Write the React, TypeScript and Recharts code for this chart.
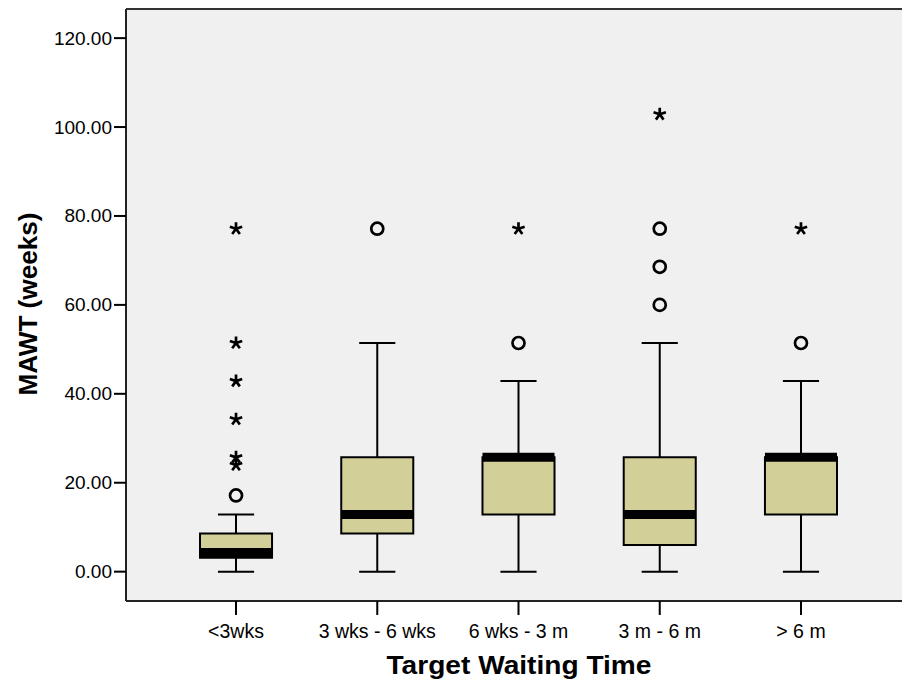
import React from 'react';
import {
  ComposedChart,
  XAxis,
  YAxis,
  CartesianGrid,
  ReferenceArea,
  ReferenceLine,
  Scatter,
} from 'recharts';

const categories = ['<3wks', '3 wks - 6 wks', '6 wks - 3 m', '3 m - 6 m', '> 6 m'];
const whiskerLow = [0, 0, 0, 0, 0];
const q1 = [3.14, 8.57, 12.86, 6.0, 12.86];
const medians = [4.29, 12.86, 25.71, 12.86, 25.71];
const q3 = [8.57, 25.71, 25.71, 25.71, 25.71];
const whiskerHigh = [12.86, 51.43, 42.86, 51.43, 42.86];
const outliers = [[17.14], [77.14], [51.43], [77.14, 68.57, 60.0], [51.43]];
const extremes = [[77.14, 51.43, 42.86, 34.29, 25.71, 24.0], [], [77.14], [102.86], [77.14]];
const yTicks = [0, 20, 40, 60, 80, 100, 120];

const font = '"Liberation Sans", Arial, sans-serif';
const yDomain: [number, number] = [-6.6, 126.55];
const xDomain: [number, number] = [0.221, 5.779];
const boxHalf = 0.255;
const capHalf = 0.128;

const circleData = outliers.flatMap((vals, i) => vals.map((v) => ({ x: i + 1, y: v })));
const starData = extremes.flatMap((vals, i) => vals.map((v) => ({ x: i + 1, y: v })));

const CircleMark = (props: any) => {
  const { cx, cy } = props;
  return <circle cx={cx} cy={cy} r={6} fill="none" stroke="#000" strokeWidth={2.7} />;
};

const StarMark = (props: any) => {
  const { cx, cy } = props;
  const r = 6.5;
  const d = [-90, -18, 54, 126, 198]
    .map((a) => {
      const t = (a * Math.PI) / 180;
      return `M${cx},${cy}L${cx + r * Math.cos(t)},${cy + r * Math.sin(t)}`;
    })
    .join('');
  return <path d={d} stroke="#000" strokeWidth={2.7} fill="none" />;
};

const YTick = (props: any) => {
  const { x, y, payload } = props;
  return (
    <text x={x} y={y} dy={6.5} textAnchor="end" fontSize={19} fontFamily={font} fill="#000">
      {Number(payload.value).toFixed(2)}
    </text>
  );
};

const XTick = (props: any) => {
  const { x, y, payload } = props;
  return (
    <text x={x} y={y + 21} textAnchor="middle" fontSize={19.5} fontFamily={font} fill="#000">
      {categories[payload.value - 1]}
    </text>
  );
};

export default function App() {
  return (
    <div style={{ position: 'absolute', left: 0, top: 0, width: 902, height: 686, overflow: 'hidden', background: '#fff' }}>
      <ComposedChart width={920} height={686} margin={{ top: 9, right: 9, left: 0, bottom: 0 }}>
        <CartesianGrid horizontal={false} vertical={false} fill="#f0f0f0" />
        <XAxis
          type="number"
          dataKey="x"
          domain={xDomain}
          ticks={[1, 2, 3, 4, 5]}
          allowDataOverflow
          height={85}
          tickSize={14}
          tickLine={{ stroke: '#000', strokeWidth: 2 }}
          axisLine={{ stroke: '#222', strokeWidth: 2 }}
          tick={<XTick />}
          label={{
            content: () => (
              <text
                x={519}
                y={674}
                textAnchor="middle"
                fontSize={25}
                fontWeight="bold"
                fontFamily={font}
                fill="#000"
                textLength={265}
                lengthAdjust="spacingAndGlyphs"
              >
                Target Waiting Time
              </text>
            ),
          }}
        />
        <YAxis
          type="number"
          dataKey="y"
          domain={yDomain}
          ticks={yTicks}
          allowDataOverflow
          width={126}
          tickSize={12}
          tickLine={{ stroke: '#000', strokeWidth: 2 }}
          axisLine={{ stroke: '#222', strokeWidth: 2 }}
          tick={<YTick />}
          label={{
            content: () => (
              <text
                x={37}
                y={304}
                transform="rotate(-90 37 304)"
                textAnchor="middle"
                fontSize={25}
                fontWeight="bold"
                fontFamily={font}
                fill="#000"
                textLength={183}
                lengthAdjust="spacingAndGlyphs"
              >
                MAWT (weeks)
              </text>
            ),
          }}
        />
        <ReferenceLine y={yDomain[1]} stroke="#333" strokeWidth={2} />
        {categories.map((c, i) => (
          <ReferenceArea
            key={'box' + c}
            x1={i + 1 - boxHalf}
            x2={i + 1 + boxHalf}
            y1={q1[i]}
            y2={q3[i]}
            fill="#d3cf98"
            fillOpacity={1}
            stroke="#000"
            strokeWidth={2}
          />
        ))}
        {categories.map((c, i) => (
          <ReferenceLine
            key={'wu' + c}
            segment={[{ x: i + 1, y: q3[i] }, { x: i + 1, y: whiskerHigh[i] }]}
            stroke="#000"
            strokeWidth={2}
          />
        ))}
        {categories.map((c, i) => (
          <ReferenceLine
            key={'wl' + c}
            segment={[{ x: i + 1, y: whiskerLow[i] }, { x: i + 1, y: q1[i] }]}
            stroke="#000"
            strokeWidth={2}
          />
        ))}
        {categories.map((c, i) => (
          <ReferenceLine
            key={'cu' + c}
            segment={[{ x: i + 1 - capHalf, y: whiskerHigh[i] }, { x: i + 1 + capHalf, y: whiskerHigh[i] }]}
            stroke="#000"
            strokeWidth={2}
          />
        ))}
        {categories.map((c, i) => (
          <ReferenceLine
            key={'cl' + c}
            segment={[{ x: i + 1 - capHalf, y: whiskerLow[i] }, { x: i + 1 + capHalf, y: whiskerLow[i] }]}
            stroke="#000"
            strokeWidth={2}
          />
        ))}
        {categories.map((c, i) => (
          <ReferenceLine
            key={'md' + c}
            segment={[{ x: i + 1 - boxHalf, y: medians[i] }, { x: i + 1 + boxHalf, y: medians[i] }]}
            stroke="#000"
            strokeWidth={9}
          />
        ))}
        <Scatter data={circleData} shape={<CircleMark />} isAnimationActive={false} />
        <Scatter data={starData} shape={<StarMark />} isAnimationActive={false} />
      </ComposedChart>
    </div>
  );
}
